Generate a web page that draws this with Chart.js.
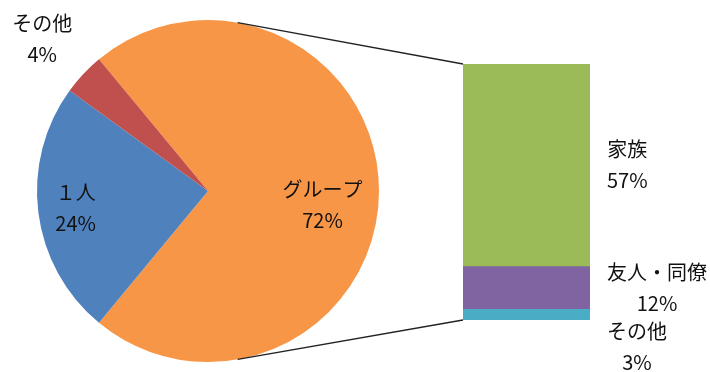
<!DOCTYPE html>
<html>
<head>
<meta charset="utf-8">
<script src="https://cdn.jsdelivr.net/npm/chart.js@4/dist/chart.umd.min.js"></script>
<style>
  body { margin: 0; background: #fff; }
  #wrap { position: relative; width: 710px; height: 372px; }
  #wrap canvas { position: absolute; left: 0; top: 0; }
</style>
</head>
<body>
<div id="wrap">
  <canvas id="pie" width="710" height="372"></canvas>
  <canvas id="bar" width="710" height="372"></canvas>
</div>
<script>
// main pie: share of travel style (%)
const pieLabels = ['グループ', '１人', 'その他'];
const pieValues = [72, 24, 4];
const pieColors = ['#F79646', '#4F81BD', '#C0504D'];

// breakdown of the "グループ" slice, top to bottom (%)
const barLabels = ['家族', '友人・同僚', 'その他'];
const barValues = [57, 12, 3];
const barColors = ['#9BBB59', '#8064A2', '#4BACC6'];

const font = '20px "Noto Sans CJK JP", "Noto Sans", sans-serif';
const lineH = 31;

// label placement for pie slices (fraction of radius, extra y shift)
const pieLabelRadius = [0.67, 0.78, 1.33];
const pieLabelShift = [14, 0, 4];

const total = pieValues.reduce((a, b) => a + b, 0);

function drawBlock(ctx, lines, x, y) {
    ctx.save();
    ctx.font = font;
    ctx.fillStyle = '#111';
    ctx.textAlign = 'center';
    ctx.textBaseline = 'middle';
    lines.forEach((t, i) => {
        ctx.fillText(t, x, y + (i - (lines.length - 1) / 2) * lineH);
    });
    ctx.restore();
}

const pieLabelPlugin = {
    id: 'pieLabels',
    afterDraw(chart) {
        const ctx = chart.ctx;
        chart.getDatasetMeta(0).data.forEach((arc, i) => {
            const mid = (arc.startAngle + arc.endAngle) / 2;
            const r = arc.outerRadius * pieLabelRadius[i];
            const x = arc.x + Math.cos(mid) * r;
            const y = arc.y + Math.sin(mid) * r + pieLabelShift[i];
            drawBlock(ctx, [pieLabels[i], pieValues[i] + '%'], x, y);
        });
    }
};

const pieChart = new Chart(document.getElementById('pie').getContext('2d'), {
    type: 'pie',
    data: {
        labels: pieLabels,
        datasets: [{
            data: pieValues,
            backgroundColor: pieColors,
            borderWidth: 0
        }]
    },
    options: {
        responsive: false,
        animation: false,
        rotation: 90 - pieValues[0] / total * 180,
        layout: { padding: { left: 37, top: 20, right: 331, bottom: 10 } },
        plugins: { legend: { display: false }, tooltip: { enabled: false } }
    },
    plugins: [pieLabelPlugin]
});

// connectors + labels for the breakdown bar
const barLabelPlugin = {
    id: 'barLabels',
    afterDraw(chart) {
        const ctx = chart.ctx;
        const n = barLabels.length;
        // datasets are stored bottom-up, so index n-1 is the top segment
        const topEl = chart.getDatasetMeta(n - 1).data[0];
        const botEl = chart.getDatasetMeta(0).data[0];
        const left = topEl.x - topEl.width / 2;
        const right = topEl.x + topEl.width / 2;

        const arc = pieChart.getDatasetMeta(0).data[0];
        const a = 10 * Math.PI / 180;
        ctx.save();
        ctx.strokeStyle = '#222';
        ctx.lineWidth = 1.3;
        ctx.beginPath();
        ctx.moveTo(arc.x + Math.sin(a) * arc.outerRadius, arc.y - Math.cos(a) * arc.outerRadius);
        ctx.lineTo(left, topEl.y);
        ctx.moveTo(arc.x + Math.sin(a) * arc.outerRadius, arc.y + Math.cos(a) * arc.outerRadius);
        ctx.lineTo(left, botEl.base);
        ctx.stroke();
        ctx.restore();

        ctx.save();
        ctx.font = font;
        let prev = -Infinity;
        for (let k = 0; k < n; k++) {
            const el = chart.getDatasetMeta(n - 1 - k).data[0];
            const lines = [barLabels[k], barValues[k] + '%'];
            const w = Math.max(...lines.map(t => ctx.measureText(t).width));
            let cy = Math.max((el.y + el.base) / 2, prev + lineH * 2 - 3);
            drawBlock(ctx, lines, right + 17 + w / 2, cy);
            prev = cy;
        }
        ctx.restore();
    }
};

const barDatasets = barLabels.map((l, i) => ({
    label: l,
    data: [barValues[i]],
    backgroundColor: barColors[i],
    borderWidth: 0,
    barPercentage: 1,
    categoryPercentage: 1
})).reverse();

const barChart = new Chart(document.getElementById('bar').getContext('2d'), {
    type: 'bar',
    data: { labels: ['グループ'], datasets: barDatasets },
    options: {
        responsive: false,
        animation: false,
        layout: { padding: { left: 463, top: 64, right: 120, bottom: 52 } },
        scales: {
            x: { display: false, stacked: true },
            y: { display: false, stacked: true, min: 0, max: pieValues[0] }
        },
        plugins: { legend: { display: false }, tooltip: { enabled: false } }
    },
    plugins: [barLabelPlugin]
});
</script>
</body>
</html>
